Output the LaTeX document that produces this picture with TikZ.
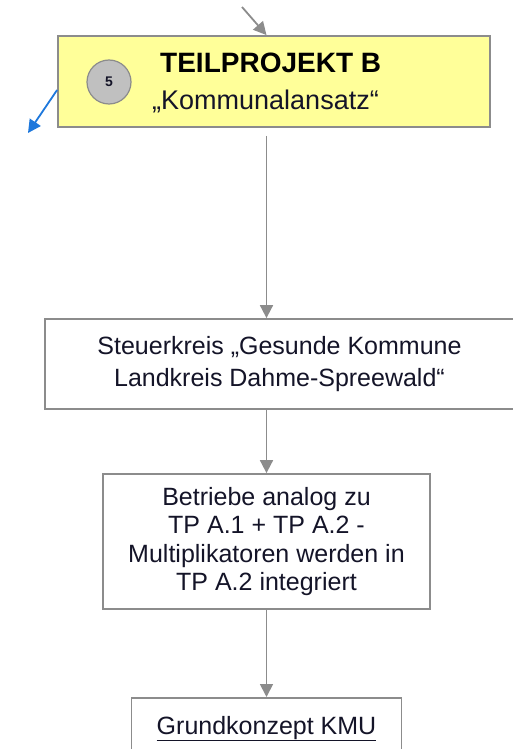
\documentclass[tikz,border=0pt]{standalone}
\usepackage{fontspec}
\setmainfont{Liberation Sans}
\usetikzlibrary{arrows.meta}
\definecolor{boxgray}{HTML}{8C8C8C}
\definecolor{ylw}{HTML}{FFFF99}
\definecolor{circgray}{HTML}{C0C0C0}
\definecolor{bluearr}{HTML}{1E78DC}
\definecolor{txtc}{HTML}{141428}
\begin{document}
\begin{tikzpicture}[x=1pt,y=-1pt,
  box/.style={draw=boxgray, line width=1.8pt, fill=white, align=center, inner sep=0pt, text=txtc},
  conn/.style={draw=boxgray, line width=1.8pt, -{Triangle[length=13pt,width=13pt]}},
  bluearrow/.style={draw=bluearr, line width=1.8pt, -{Triangle[length=13pt,width=13pt]}}]
\useasboundingbox (0,0) rectangle (513,749);
% yellow header box
\node[box, fill=ylw, minimum width=432pt, minimum height=91pt] (yb) at (274,81.5) {};
\node[circle, draw=boxgray, fill=circgray, line width=1.2pt, minimum size=44pt, inner sep=0pt,
      text=txtc, font=\bfseries\fontsize{14}{14}\selectfont] (c5) at (109,82) {5};
\node[anchor=base west, inner sep=0pt, text=black, font=\bfseries\fontsize{28}{28}\selectfont] (tb) at (160,73) {TEILPROJEKT B};
\node[anchor=base west, inner sep=0pt, text=txtc, font=\fontsize{27}{27}\selectfont] (ka) at (152,110) {„Kommunalansatz“};
% boxes
\node[box, font=\fontsize{25}{32}\selectfont, minimum width=469pt, minimum height=90pt] (sk) at (279.5,364)
  {Steuerkreis „Gesunde Kommune\\Landkreis Dahme-Spreewald“};
\node[box, font=\fontsize{25}{28.3}\selectfont, minimum width=327pt, minimum height=135pt] (bt) at (266.5,541.5)
  {Betriebe analog zu\\TP A.1 + TP A.2 -\\Multiplikatoren werden in\\TP A.2 integriert};
\node[box, anchor=north, minimum width=270pt, inner ysep=18pt, font=\fontsize{25}{28}\selectfont] (gk) at (266.5,697)
  {\underline{Grundkonzept KMU}};
% connectors
\coordinate (tstart) at (242,7);
\draw[conn] (tstart) -- (yb.north -| bt.north);
\draw[conn, shorten <=8pt] (yb.south -| bt.north) -- (sk.north -| bt.north);
\draw[conn] (sk.south -| bt.north) -- (bt.north);
\draw[conn] (bt.south) -- (gk.north);
\coordinate (bend) at (28,133);
\draw[bluearrow] ([yshift=-8.5pt]yb.west) -- (bend);
\end{tikzpicture}
\end{document}
